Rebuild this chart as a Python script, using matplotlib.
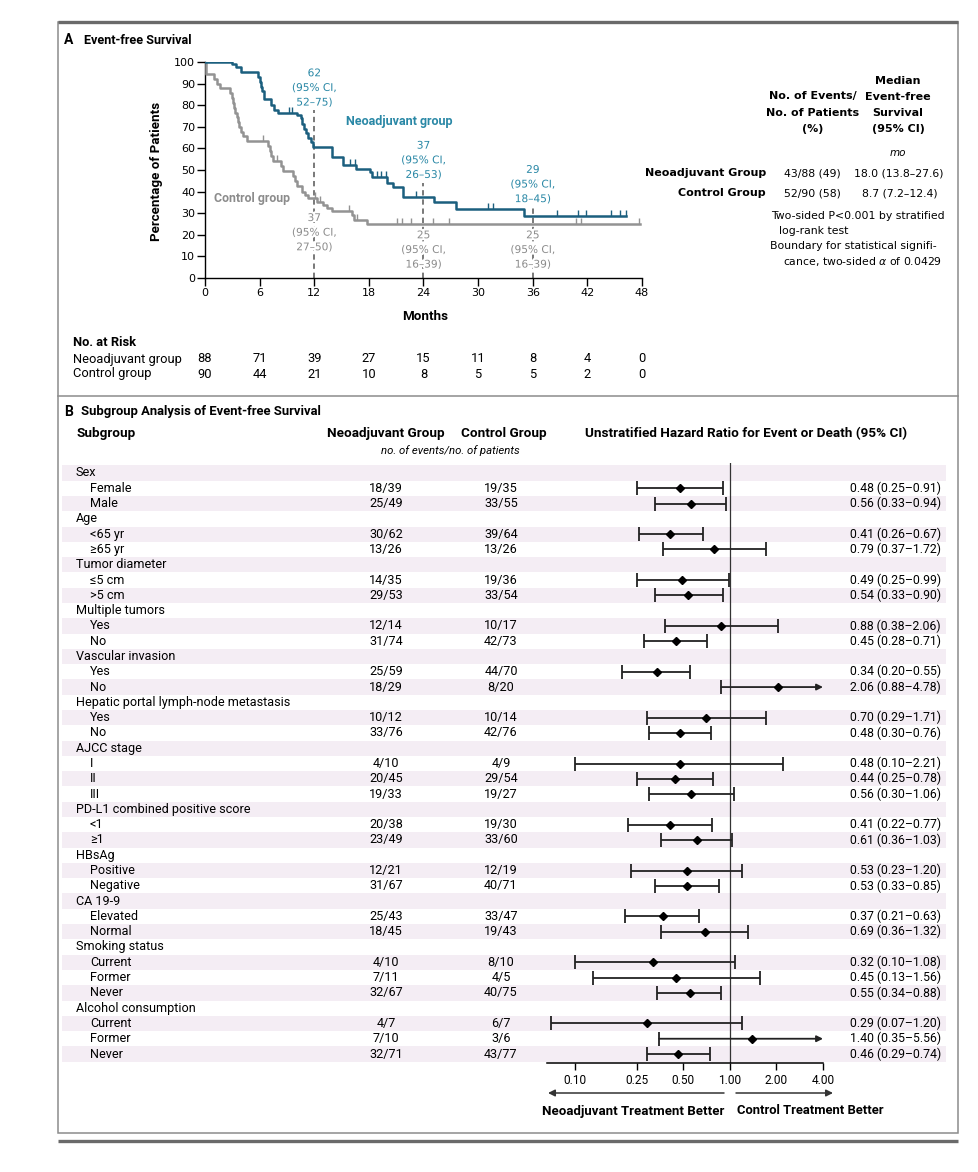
import numpy as np
import matplotlib
matplotlib.use("Agg")
import matplotlib.pyplot as plt
from matplotlib import font_manager, transforms
from matplotlib import patheffects as pe
from matplotlib.patches import Rectangle

# ---------------- data ----------------
months_ticks = [0, 6, 12, 18, 24, 30, 36, 42, 48]
pct_ticks = [0, 10, 20, 30, 40, 50, 60, 70, 80, 90, 100]

neo_t = [0, 3.0, 3.4, 3.9, 5.85, 6.0, 6.15, 6.3, 6.5, 7.3, 7.6, 8.0, 10.1, 10.5, 10.7,
         10.9, 11.1, 11.35, 11.6, 11.85, 13.9, 15.2, 16.6, 18.1, 18.3, 20.0, 20.6, 21.7,
         25.2, 27.6, 35.05]
neo_s = [100, 98.9, 97.7, 95.4, 93.2, 90.9, 88.6, 86.4, 83.0, 80.0, 77.8, 76.6, 75.3, 73.9,
         71.5, 69.0, 67.0, 65.0, 63.0, 60.8, 56.0, 52.3, 50.6, 48.9, 46.6, 44.2, 42.0, 37.5,
         35.0, 32.0, 28.5]
neo_end = 46.2
neo_cens = [2.1, 2.5, 9.2, 9.6, 15.9, 16.5, 18.9, 19.3, 19.9, 23.2, 31.1, 31.6, 38.7,
            41.0, 41.9, 44.6, 45.6, 46.2]

ctl_t = [0, 0.1, 1.0, 1.3, 1.6, 2.8, 3.0, 3.1, 3.2, 3.35, 3.5, 3.6, 3.75, 3.9, 4.2, 4.6,
         6.9, 7.1, 7.3, 7.5, 8.4, 8.6, 9.7, 9.9, 10.1, 10.6, 11.0, 11.3, 12.3, 13.0, 13.4,
         13.9, 16.1, 16.4, 17.8]
ctl_s = [100, 94.5, 92.2, 90.0, 87.8, 85.5, 83.3, 81.0, 78.8, 76.6, 74.4, 72.2, 70.0, 67.8,
         65.6, 63.4, 61.1, 58.8, 56.5, 54.2, 51.9, 49.6, 47.2, 44.8, 42.4, 40.0, 38.5, 37.0,
         35.4, 33.8, 32.3, 31.0, 29.0, 27.0, 25.0]
ctl_end = 47.8
ctl_cens = [6.4, 7.9, 12.1, 12.6, 15.8, 16.7, 21.1, 21.6, 22.6, 25.0, 26.8, 40.7, 41.3, 47.7]

risk_neo = [88, 71, 39, 27, 15, 11, 8, 4, 0]
risk_ctl = [90, 44, 21, 10, 8, 5, 5, 2, 0]

landmark_months = [12, 24, 36]
neo_landmark = ["62", "37", "29"]
neo_landmark_ci = ["52\u201375", "26\u201353", "18\u201345"]
ctl_landmark = ["37", "25", "25"]
ctl_landmark_ci = ["27\u201350", "16\u201339", "16\u201339"]

sub_labels = ["Sex", "Female", "Male", "Age", "<65 yr", "\u226565 yr", "Tumor diameter",
              "\u22645 cm", ">5 cm", "Multiple tumors", "Yes", "No", "Vascular invasion",
              "Yes", "No", "Hepatic portal lymph-node metastasis", "Yes", "No", "AJCC stage",
              "I", "II", "III", "PD-L1 combined positive score", "<1", "\u22651", "HBsAg",
              "Positive", "Negative", "CA 19-9", "Elevated", "Normal", "Smoking status",
              "Current", "Former", "Never", "Alcohol consumption", "Current", "Former", "Never"]
neo_counts = ["", "18/39", "25/49", "", "30/62", "13/26", "", "14/35", "29/53", "",
              "12/14", "31/74", "", "25/59", "18/29", "", "10/12", "33/76", "", "4/10",
              "20/45", "19/33", "", "20/38", "23/49", "", "12/21", "31/67", "", "25/43",
              "18/45", "", "4/10", "7/11", "32/67", "", "4/7", "7/10", "32/71"]
ctl_counts = ["", "19/35", "33/55", "", "39/64", "13/26", "", "19/36", "33/54", "",
              "10/17", "42/73", "", "44/70", "8/20", "", "10/14", "42/76", "", "4/9",
              "29/54", "19/27", "", "19/30", "33/60", "", "12/19", "40/71", "", "33/47",
              "19/43", "", "8/10", "4/5", "40/75", "", "6/7", "3/6", "43/77"]
nan = np.nan
hr = [nan, 0.48, 0.56, nan, 0.41, 0.79, nan, 0.49, 0.54, nan, 0.88, 0.45, nan, 0.34, 2.06,
      nan, 0.70, 0.48, nan, 0.48, 0.44, 0.56, nan, 0.41, 0.61, nan, 0.53, 0.53, nan, 0.37,
      0.69, nan, 0.32, 0.45, 0.55, nan, 0.29, 1.40, 0.46]
hr_lo = [nan, 0.25, 0.33, nan, 0.26, 0.37, nan, 0.25, 0.33, nan, 0.38, 0.28, nan, 0.20,
         0.88, nan, 0.29, 0.30, nan, 0.10, 0.25, 0.30, nan, 0.22, 0.36, nan, 0.23, 0.33,
         nan, 0.21, 0.36, nan, 0.10, 0.13, 0.34, nan, 0.07, 0.35, 0.29]
hr_hi = [nan, 0.91, 0.94, nan, 0.67, 1.72, nan, 0.99, 0.90, nan, 2.06, 0.71, nan, 0.55,
         4.78, nan, 1.71, 0.76, nan, 2.21, 0.78, 1.06, nan, 0.77, 1.03, nan, 1.20, 0.85,
         nan, 0.63, 1.32, nan, 1.08, 1.56, 0.88, nan, 1.20, 5.56, 0.74]
hr_ticks = [0.10, 0.25, 0.50, 1.00, 2.00, 4.00]

# ---------------- fonts ----------------
avail = {f.name for f in font_manager.fontManager.ttflist}
def pick(*names):
    for n in names:
        if n in avail:
            return n
    return "DejaVu Sans"
BODY = pick("Roboto", "Liberation Sans", "Open Sans")
REG = "DejaVu Sans"

# ---------------- figure ----------------
W, H = 979, 1172
fig = plt.figure(figsize=(W / 100, H / 100), dpi=100)
bg = fig.add_axes([0, 0, 1, 1])
bg.set_xlim(0, W)
bg.set_ylim(H, 0)
bg.axis("off")

FRAME = "#8c8c8c"
bg.plot([58, 958], [21.5, 21.5], color="#6a6a6a", lw=2.4, solid_capstyle="butt")
bg.add_patch(Rectangle((58, 22), 900, 1111, fill=False, ec=FRAME, lw=1.1))
bg.plot([58, 958], [396, 396], color=FRAME, lw=1.1)
bg.plot([58, 958], [1140.5, 1140.5], color="#6a6a6a", lw=2.4, solid_capstyle="butt")

TEAL_L = "#1b5f7e"
TEAL_T = "#2a88a6"
GRAY_L = "#939393"
GRAY_T = "#8c8c8c"

# ---------------- panel A ----------------
bg.text(64, 40, "A", fontsize=10, fontweight="bold", family=BODY, va="center")
bg.text(84, 40, "Event-free Survival", fontsize=9.1, fontweight="bold", family=BODY,
        va="center")

ax = fig.add_axes([205 / W, 1 - 278 / H, 437 / W, 216 / H])
ax.patch.set_alpha(0)
ax.set_xlim(0, 48)
ax.set_ylim(0, 100)
for s in ["top", "right"]:
    ax.spines[s].set_visible(False)
for s in ["left", "bottom"]:
    ax.spines[s].set_linewidth(1.0)
ax.set_xticks(months_ticks)
ax.set_yticks(pct_ticks)
ax.tick_params(direction="out", length=6, width=1, labelsize=8, pad=1)
for lab in ax.get_xticklabels() + ax.get_yticklabels():
    lab.set_family(REG)

def step_level(times, surv, c):
    i = np.searchsorted(times, c, side="right") - 1
    return surv[i]

for t, s_, end, cens, col in [(ctl_t, ctl_s, ctl_end, ctl_cens, GRAY_L),
                              (neo_t, neo_s, neo_end, neo_cens, TEAL_L)]:
    ax.step(list(t) + [end], list(s_) + [s_[-1]], where="post", color=col, lw=1.8,
            zorder=3)
    lv = [step_level(np.array(t), np.array(s_), c) for c in cens]
    ax.plot(cens, lv, ls="none", marker=2, ms=4, mew=1.0, color=col, zorder=3)

dash_top = [78, 44, 33]
for m, top in zip(landmark_months, dash_top):
    ax.plot([m, m], [0, top], color="#555555", lw=1.1, ls=(0, (3.5, 2.5)), zorder=2)

halo = [pe.withStroke(linewidth=3, foreground="white")]
neo_lab_y = [88, 54.5, 43.3]
ctl_lab_y = [21, 13, 13]
for m, v, ci, yy in zip(landmark_months, neo_landmark, neo_landmark_ci, neo_lab_y):
    ax.text(m, yy, f"{v}\n(95% CI,\n{ci})", ha="center", va="center", color=TEAL_T,
            fontsize=7.6, family=REG, linespacing=1.58, zorder=4, path_effects=halo)
for m, v, ci, yy in zip(landmark_months, ctl_landmark, ctl_landmark_ci, ctl_lab_y):
    ax.text(m, yy, f"{v}\n(95% CI,\n{ci})", ha="center", va="center", color=GRAY_T,
            fontsize=7.6, family=REG, linespacing=1.58, zorder=4, path_effects=halo)

ax.text(15.5, 72.3, "Neoadjuvant group", color=TEAL_T, fontsize=9.0, fontweight="bold",
        family=BODY, va="center")
ax.text(0.95, 36.8, "Control group", color=GRAY_T, fontsize=8.9, fontweight="bold",
        family=BODY, va="center", zorder=5)

bg.text(157, 171, "Percentage of Patients", rotation=90, ha="center", va="center",
        fontsize=9.6, fontweight="bold", family=BODY)
bg.text(425, 317, "Months", ha="center", va="center", fontsize=9.6, fontweight="bold",
        family=BODY)

# at-risk table
bt = transforms.blended_transform_factory(ax.transData, bg.transData)
bg.text(73, 343, "No. at Risk", fontsize=9.3, fontweight="bold", family=BODY, va="center")
bg.text(73, 359, "Neoadjuvant group", fontsize=9.3, family=BODY, va="center")
bg.text(73, 374, "Control group", fontsize=9.3, family=BODY, va="center")
for m, a, b in zip(months_ticks, risk_neo, risk_ctl):
    bg.text(m, 359, str(a), transform=bt, ha="center", va="center", fontsize=9.3,
            family=BODY)
    bg.text(m, 374, str(b), transform=bt, ha="center", va="center", fontsize=9.3,
            family=BODY)

# right table
bold = dict(fontweight="bold", family=REG, fontsize=8, ha="center", va="center")
for i, line in enumerate(["Median", "Event-free", "Survival", "(95% CI)"]):
    bg.text(898, 80.5 + i * 16, line, **bold)
for i, line in enumerate(["No. of Events/", "No. of Patients", "(%)"]):
    bg.text(813, 96.5 + i * 16, line, **bold)
bg.text(898, 152.5, "mo", fontstyle="italic", family=REG, fontsize=7.5, ha="center",
        va="center")
bg.text(766, 173, "Neoadjuvant Group", fontweight="bold", family=REG, fontsize=8,
        ha="right", va="center")
bg.text(766, 193, "Control Group", fontweight="bold", family=REG, fontsize=8, ha="right",
        va="center")
reg = dict(family=REG, fontsize=7.8, va="center")
bg.text(812, 173, "43/88 (49)", ha="center", **reg)
bg.text(812, 193, "52/90 (58)", ha="center", **reg)
bg.text(944, 173, "18.0 (13.8\u201327.6)", ha="right", **reg)
bg.text(938, 193, "8.7 (7.2\u201312.4)", ha="right", **reg)
bg.text(771, 216, "Two-sided P<0.001 by stratified", ha="left", **reg)
bg.text(779, 231, "log-rank test", ha="left", **reg)
bg.text(770, 246, "Boundary for statistical signifi-", ha="left", **reg)
bg.text(783, 261, "cance, two-sided $\\alpha$ of 0.0429", ha="left", **reg)

# ---------------- panel B ----------------
bg.text(64, 412, "B", fontsize=10, fontweight="bold", family=BODY, va="center")
bg.text(81, 412, "Subgroup Analysis of Event-free Survival", fontsize=9.4,
        fontweight="bold", family=BODY, va="center")
hb = dict(fontsize=9.7, fontweight="bold", family=BODY, va="center")
bg.text(77, 434, "Subgroup", ha="left", **hb)
bg.text(386, 434, "Neoadjuvant Group", ha="center", **hb)
bg.text(504, 434, "Control Group", ha="center", **hb)
bg.text(585, 434, "Unstratified Hazard Ratio for Event or Death (95% CI)", ha="left", **hb)
bg.text(450, 451, "no. of events/no. of patients", ha="center", va="center",
        fontstyle="italic", fontsize=8.2, family=BODY)

n = len(sub_labels)
row0_px, row_px, axis_px = 473, 15.29, 1063
y_top = -(row0_px - 463) / row_px
y_bot = (axis_px - row0_px) / row_px

fx = fig.add_axes([547 / W, 1 - axis_px / H, (823 - 547) / W, (axis_px - 463) / H])
fx.patch.set_alpha(0)
fx.set_xscale("log")
fx.set_xlim(0.066, 4.0)
fx.set_ylim(y_bot, y_top)
for s in ["top", "right", "left"]:
    fx.spines[s].set_visible(False)
fx.spines["bottom"].set_linewidth(1.1)
fx.set_xticks(hr_ticks)
fx.set_xticklabels([f"{v:.2f}" for v in hr_ticks])
fx.minorticks_off()
fx.set_yticks([])
fx.tick_params(axis="x", direction="out", length=5, width=1, labelsize=8.6, pad=3)
for lab in fx.get_xticklabels():
    lab.set_family(BODY)
fx.axvline(1.0, color="#333333", lw=0.9, zorder=1)

rt = transforms.blended_transform_factory(bg.transData, fx.transData)
FS = 9.1
for i in range(n):
    if i % 2 == 0:
        bg.add_patch(Rectangle((62, i - 0.5), 884, 1.0, transform=rt, fc="#f4edf4",
                               ec="none", zorder=0))
    header = np.isnan(hr[i])
    bg.text(76 if header else 90, i, sub_labels[i], transform=rt, ha="left", va="center",
            fontsize=FS, family=BODY)
    if not header:
        bg.text(386, i, neo_counts[i], transform=rt, ha="center", va="center", fontsize=FS,
                family=BODY)
        bg.text(501, i, ctl_counts[i], transform=rt, ha="center", va="center", fontsize=FS,
                family=BODY)
        bg.text(941, i, f"{hr[i]:.2f} ({hr_lo[i]:.2f}\u2013{hr_hi[i]:.2f})", transform=rt,
                ha="right", va="center", fontsize=8.8, family=BODY)

LC = "#222222"
for i in range(n):
    if np.isnan(hr[i]):
        continue
    lo, hi_ = hr_lo[i], hr_hi[i]
    xmax = fx.get_xlim()[1]
    if hi_ > xmax:
        fx.annotate("", xy=(xmax, i), xytext=(lo, i),
                    arrowprops=dict(arrowstyle="-|>", color=LC, lw=1.3, mutation_scale=9,
                                    shrinkA=0, shrinkB=0))
        caps = [lo]
    else:
        fx.plot([lo, hi_], [i, i], color=LC, lw=1.3, solid_capstyle="butt")
        caps = [lo, hi_]
    fx.plot(caps, [i] * len(caps), ls="none", marker="|", ms=10, mew=1.3, color=LC)
    fx.plot([hr[i]], [i], ls="none", marker="D", ms=4, color="black", zorder=4)

# direction arrows
bg.annotate("", xy=(548, 1093), xytext=(724, 1093),
            arrowprops=dict(arrowstyle="-|>", color="#333333", lw=1.1, mutation_scale=10,
                            shrinkA=0, shrinkB=0))
bg.annotate("", xy=(833, 1093), xytext=(736, 1093),
            arrowprops=dict(arrowstyle="-|>", color="#333333", lw=1.1, mutation_scale=10,
                            shrinkA=0, shrinkB=0))
bg.text(724, 1111, "Neoadjuvant Treatment Better", ha="right", va="center", fontsize=9.5,
        fontweight="bold", family=BODY)
bg.text(737, 1111, "Control Treatment Better", ha="left", va="center", fontsize=9.4,
        fontweight="bold", family=BODY)

fig.savefig("out.png", dpi=100, facecolor="white")
